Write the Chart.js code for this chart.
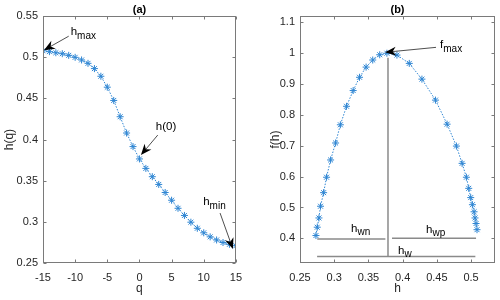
<!DOCTYPE html>
<html>
<head>
<meta charset="utf-8">
<script src="https://cdn.jsdelivr.net/npm/chart.js@4.4.0/dist/chart.umd.min.js"></script>
<style>
    html, body { margin: 0; padding: 0; background: #fff; }
    #wrap { position: relative; width: 500px; height: 300px; }
    canvas { position: absolute; top: 0; }
</style>
</head>
<body>
<div id="wrap">
    <canvas id="grafico-a" width="250" height="300" style="left:0"></canvas>
    <canvas id="grafico-b" width="250" height="300" style="left:250px"></canvas>
</div>
<script>
// Dados do painel (a): h(q)
const valoresQ = [-15, -14, -13, -12, -11, -10, -9, -8, -7, -6, -5, -4, -3, -2, -1, 0,
    1, 2, 3, 4, 5, 6, 7, 8, 9, 10, 11, 12, 13, 14, 15];
const valoresHq = [0.508, 0.5069, 0.5056, 0.5044, 0.5024, 0.500, 0.4968, 0.4927, 0.4863, 0.477,
    0.4637, 0.4476, 0.4278, 0.408, 0.3915, 0.3765, 0.365, 0.3549, 0.3455, 0.3357, 0.3263,
    0.3165, 0.3078, 0.2996, 0.2922, 0.2867, 0.2818, 0.278, 0.2749, 0.2727, 0.271];

// Dados do painel (b): f(h)
const valoresH = [0.5087, 0.5073, 0.5058, 0.5044, 0.502, 0.4995, 0.4966, 0.4932, 0.4869, 0.4786,
    0.465, 0.448, 0.4282, 0.4097, 0.3917, 0.377, 0.3665, 0.3563, 0.3466, 0.337, 0.3277,
    0.318, 0.309, 0.302, 0.2947, 0.2888, 0.2845, 0.280, 0.2777, 0.2752, 0.2733];
const valoresF = [0.428, 0.448, 0.466, 0.486, 0.509, 0.532, 0.562, 0.598, 0.643, 0.699,
    0.770, 0.848, 0.916, 0.967, 0.994, 1.0, 0.995, 0.978, 0.955, 0.922, 0.879,
    0.828, 0.768, 0.709, 0.654, 0.598, 0.548, 0.504, 0.466, 0.436, 0.409];

// Linhas de referência (larguras)
const linhaVerticalH = [0.3786, 0.3786];
const linhaVerticalF = [0.985, 0.3413];
const linhaHwnH = [0.2752, 0.3748];
const linhaHwnF = [0.398, 0.398];
const linhaHwpH = [0.3845, 0.5073];
const linhaHwpF = [0.400, 0.400];
const linhaHwH = [0.275, 0.5063];
const linhaHwF = [0.3413, 0.3413];

// Ticks
const ticksQ = [-15, -10, -5, 0, 5, 10, 15];
const ticksHq = [0.25, 0.3, 0.35, 0.4, 0.45, 0.5, 0.55];
const ticksH = [0.25, 0.3, 0.35, 0.4, 0.45, 0.5];
const ticksF = [0.4, 0.5, 0.6, 0.7, 0.8, 0.9, 1, 1.1];

const FONTE = "'Liberation Sans', Arial, Helvetica, sans-serif";
const AZUL = '#2f86d3';
const CINZA_TEXTO = '#262626';

// Anotações: texto principal, subscrito, posição (dados) e seta opcional
const anotacoesA = [
    { texto: 'h', sub: 'max', x: -10.69, y: 0.5269, seta: [-11, 0.5257, -14.85, 0.5087] },
    { texto: 'h(0)', sub: '', x: 2.54, y: 0.4115, seta: [2.85, 0.4055, 0.23, 0.3812] },
    { texto: 'h', sub: 'min', x: 9.92, y: 0.3204, seta: [12.54, 0.3107, 14.54, 0.267] }
];
const anotacoesB = [
    { texto: 'f', sub: 'max', x: 0.4547, y: 1.016, seta: [0.4488, 1.019, 0.3743, 1.003] },
    { texto: 'h', sub: 'wn', x: 0.3246, y: 0.4218 },
    { texto: 'h', sub: 'wp', x: 0.4342, y: 0.4176 },
    { texto: 'h', sub: 'w', x: 0.3933, y: 0.3493 }
];

function pontos(xs, ys) {
    return xs.map((x, i) => ({ x: x, y: ys[i] }));
}

function formatarTick(v) {
    return String(Math.round(v * 1000) / 1000);
}

// desenha seta estilo matlab
function desenharSeta(ctx, x1, y1, x2, y2) {
    const ang = Math.atan2(y2 - y1, x2 - x1);
    const comp = 11, larg = 4.5;
    const bx = x2 - comp * 0.7 * Math.cos(ang);
    const by = y2 - comp * 0.7 * Math.sin(ang);
    ctx.strokeStyle = '#222';
    ctx.lineWidth = 0.8;
    ctx.beginPath();
    ctx.moveTo(x1, y1);
    ctx.lineTo(bx, by);
    ctx.stroke();
    const cx = x2 - comp * Math.cos(ang), cy = y2 - comp * Math.sin(ang);
    ctx.fillStyle = '#000';
    ctx.beginPath();
    ctx.moveTo(x2, y2);
    ctx.lineTo(cx + larg * Math.sin(ang), cy - larg * Math.cos(ang));
    ctx.lineTo(bx, by);
    ctx.lineTo(cx - larg * Math.sin(ang), cy + larg * Math.cos(ang));
    ctx.closePath();
    ctx.fill();
}

function pluginMoldura(anotacoes, ticksX, ticksY) {
    return {
        id: 'moldura',
        afterDraw(chart) {
            const ctx = chart.ctx;
            const a = chart.chartArea;
            const sx = chart.scales.x, sy = chart.scales.y;
            ctx.save();
            // caixa
            ctx.strokeStyle = '#7a7a7a';
            ctx.lineWidth = 1;
            const l = Math.round(a.left) + 0.5, r = Math.round(a.right) - 0.5;
            const t = Math.round(a.top) + 0.5, b = Math.round(a.bottom) - 0.5;
            ctx.strokeRect(l, t, r - l, b - t);
            // ticks internos
            ctx.beginPath();
            ticksX.forEach(v => {
                const px = Math.round(sx.getPixelForValue(v)) + 0.5;
                ctx.moveTo(px, b); ctx.lineTo(px, b - 3);
                ctx.moveTo(px, t); ctx.lineTo(px, t + 3);
            });
            ticksY.forEach(v => {
                const py = Math.round(sy.getPixelForValue(v)) + 0.5;
                ctx.moveTo(l, py); ctx.lineTo(l + 3, py);
                ctx.moveTo(r, py); ctx.lineTo(r - 3, py);
            });
            ctx.stroke();

            // textos e setas
            anotacoes.forEach(an => {
                if (an.seta) {
                    desenharSeta(ctx,
                        sx.getPixelForValue(an.seta[0]), sy.getPixelForValue(an.seta[1]),
                        sx.getPixelForValue(an.seta[2]), sy.getPixelForValue(an.seta[3]));
                }
                const px = sx.getPixelForValue(an.x), py = sy.getPixelForValue(an.y);
                ctx.fillStyle = '#000';
                ctx.textAlign = 'left';
                ctx.textBaseline = 'alphabetic';
                ctx.font = '11.5px ' + FONTE;
                ctx.fillText(an.texto, px, py);
                if (an.sub) {
                    const w = ctx.measureText(an.texto).width;
                    ctx.font = '10px ' + FONTE;
                    ctx.fillText(an.sub, px + w, py + 3.5);
                }
            });
            ctx.restore();
        }
    };
}

function criarGrafico(id, cfg) {
    return new Chart(document.getElementById(id), {
        type: 'scatter',
        data: { datasets: cfg.datasets },
        options: {
            responsive: false,
            animation: false,
            layout: { padding: { left: 0, right: cfg.padDireita, top: 0, bottom: 0 } },
            plugins: {
                legend: { display: false },
                tooltip: { enabled: false },
                title: {
                    display: true,
                    text: cfg.titulo,
                    fullSize: false,
                    color: '#000',
                    font: { family: FONTE, size: 11, weight: 'bold' },
                    padding: { top: 3, bottom: 0 }
                }
            },
            scales: {
                x: {
                    type: 'linear',
                    min: cfg.xMin, max: cfg.xMax,
                    afterBuildTicks: s => { s.ticks = cfg.ticksX.map(v => ({ value: v })); },
                    afterFit: s => { s.height = 37; },
                    grid: { display: false, drawTicks: false },
                    border: { display: false },
                    ticks: {
                        color: CINZA_TEXTO, padding: 8, maxRotation: 0, autoSkip: false,
                        font: { family: FONTE, size: 11 },
                        callback: formatarTick
                    },
                    title: {
                        display: true, text: cfg.rotuloX, color: CINZA_TEXTO,
                        font: { family: FONTE, size: 12 }, padding: { top: 0, bottom: 4 }
                    }
                },
                y: {
                    type: 'linear',
                    min: cfg.yMin, max: cfg.yMax,
                    afterBuildTicks: s => { s.ticks = cfg.ticksY.map(v => ({ value: v })); },
                    afterFit: s => { s.width = cfg.larguraY; },
                    grid: { display: false, drawTicks: false },
                    border: { display: false },
                    ticks: {
                        color: CINZA_TEXTO, padding: 5, autoSkip: false,
                        font: { family: FONTE, size: 11 },
                        callback: formatarTick
                    },
                    title: {
                        display: true, text: cfg.rotuloY, color: CINZA_TEXTO,
                        font: { family: FONTE, size: 12 }, padding: { top: cfg.padTituloY, bottom: 0 }
                    }
                }
            }
        },
        plugins: [pluginMoldura(cfg.anotacoes, cfg.ticksX, cfg.ticksY)]
    });
}

function serieCurva(xs, ys) {
    return {
        data: pontos(xs, ys),
        showLine: true,
        borderColor: AZUL,
        borderWidth: 1,
        borderDash: [1.5, 1.5],
        pointStyle: 'star',
        pointRadius: 3.5,
        pointBorderColor: AZUL,
        pointBorderWidth: 1,
        pointBackgroundColor: AZUL
    };
}

function serieLinha(xs, ys) {
    return {
        data: pontos(xs, ys),
        showLine: true,
        borderColor: '#8a8a8a',
        borderWidth: 1.5,
        pointRadius: 0
    };
}

document.addEventListener('DOMContentLoaded', () => {
    criarGrafico('grafico-a', {
        titulo: '(a)',
        datasets: [serieCurva(valoresQ, valoresHq)],
        xMin: -15, xMax: 15, yMin: 0.25, yMax: 0.55,
        ticksX: ticksQ, ticksY: ticksHq,
        rotuloX: 'q', rotuloY: 'h(q)',
        larguraY: 43, padDireita: 12, padTituloY: 2,
        anotacoes: anotacoesA
    });

    criarGrafico('grafico-b', {
        titulo: '(b)',
        datasets: [
            serieLinha(linhaVerticalH, linhaVerticalF),
            serieLinha(linhaHwnH, linhaHwnF),
            serieLinha(linhaHwpH, linhaHwpF),
            serieLinha(linhaHwH, linhaHwF),
            serieCurva(valoresH, valoresF)
        ],
        xMin: 0.25, xMax: 0.535, yMin: 0.32, yMax: 1.12,
        ticksX: ticksH, ticksY: ticksF,
        rotuloX: 'h', rotuloY: 'f(h)',
        larguraY: 50, padDireita: 5, padTituloY: 18,
        anotacoes: anotacoesB
    });
});
</script>
</body>
</html>
